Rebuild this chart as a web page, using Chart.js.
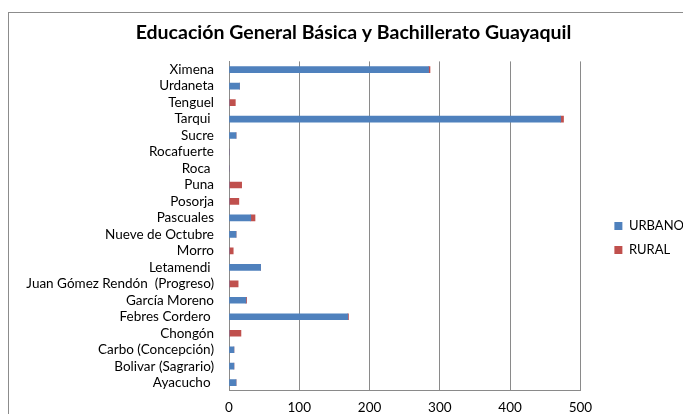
<!DOCTYPE html>
<html>
<head>
<meta charset="utf-8">
<script src="https://cdn.jsdelivr.net/npm/chart.js@4"></script>
<style>
  html, body { margin: 0; padding: 0; background: #fff; }
  #wrap { position: relative; width: 683px; height: 414px; overflow: hidden; }
  #frame { position: absolute; left: 8px; top: 12px; width: 700px; height: 420px; border: 1px solid #8c8c8c; }
  #chart { position: absolute; left: 0; top: 0; }
</style>
</head>
<body>
<div id="wrap">
  <div id="frame"></div>
  <canvas id="chart" width="683" height="414"></canvas>
</div>
<script>
const parroquias = [
  'Ximena', 'Urdaneta', 'Tenguel', 'Tarqui ', 'Sucre', 'Rocafuerte', 'Roca ',
  'Puna', 'Posorja', 'Pascuales', 'Nueve de Octubre', 'Morro', 'Letamendi ',
  'Juan Gómez Rendón  (Progreso)', 'García Moreno', 'Febres Cordero ', 'Chongón',
  'Carbo (Concepción)', 'Bolivar (Sagrario)', 'Ayacucho '
];
const urbano = [284, 15, 0, 472, 10, 0, 0, 0, 0, 31, 10, 0, 45, 0, 24, 169, 0, 7, 7, 10];
const rural  = [2, 0, 9, 4, 0, 0, 0, 18, 14, 6, 0, 6, 0, 13, 1, 1, 17, 0, 0, 0];
const xTicks = [0, 100, 200, 300, 400, 500];

const gridGray = '#8a8a8a';
const font = 'Lato, "Open Sans", sans-serif';

// nudge legend and title to where Excel put them (the frame runs off the right edge)
const boxNudge = {
  id: 'boxNudge',
  afterLayout(chart) {
    const l = chart.legend;
    l.left += 23; l.right += 23;
    l.top += 31; l.bottom += 31;
    const t = chart.titleBlock;
    t.left += 18; t.right += 18;
  }
};

new Chart(document.getElementById('chart'), {
  type: 'bar',
  data: {
    labels: parroquias,
    datasets: [
      { label: 'URBANO', data: urbano, backgroundColor: '#4f81bd', barThickness: 6 },
      { label: 'RURAL', data: rural, backgroundColor: '#c0504d', barThickness: 6 }
    ]
  },
  options: {
    indexAxis: 'y',
    responsive: false,
    animation: false,
    layout: { padding: { left: 0, right: 12, top: 0, bottom: 0 } },
    plugins: {
      tooltip: { enabled: false },
      title: {
        display: true,
        text: 'Educación General Básica y Bachillerato Guayaquil',
        color: '#000',
        font: { family: font, size: 19.5, weight: 'bold' },
        padding: { top: 21, bottom: 17 }
      },
      legend: {
        position: 'right',
        labels: {
          boxWidth: 8,
          boxHeight: 8,
          padding: 11,
          color: '#000',
          font: { family: font, size: 13 }
        }
      }
    },
    scales: {
      x: {
        stacked: true,
        min: 0,
        max: 500,
        afterBuildTicks: s => { s.ticks = xTicks.map(v => ({ value: v })); },
        afterFit: s => { s.height = 22; },
        grid: { color: gridGray, drawTicks: false },
        border: { display: true, color: gridGray },
        ticks: { color: '#000', padding: 9, font: { family: font, size: 13.5 } }
      },
      y: {
        stacked: true,
        afterFit: s => { s.width = 229; },
        grid: { display: false, drawTicks: false },
        border: { display: true, color: gridGray },
        ticks: { color: '#000', padding: 15, autoSkip: false, font: { family: font, size: 13.5 } }
      }
    }
  },
  plugins: [boxNudge]
});
</script>
</body>
</html>
